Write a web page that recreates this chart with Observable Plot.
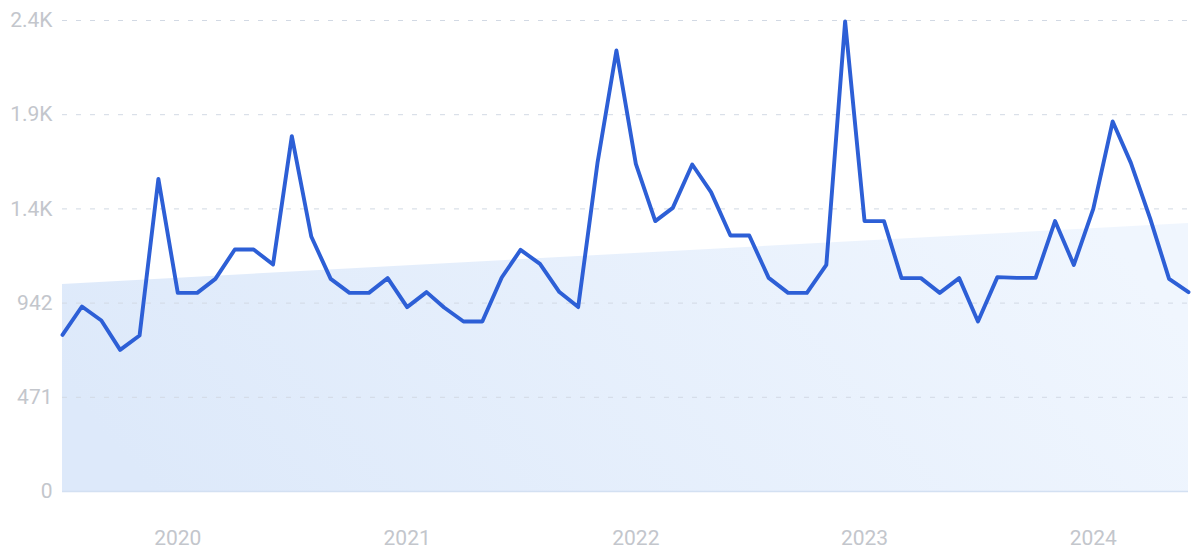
<!DOCTYPE html>
<html>
<head>
<meta charset="utf-8">
<script src="https://cdn.jsdelivr.net/npm/d3@7"></script>
<script src="https://cdn.jsdelivr.net/npm/@observablehq/plot@0.6"></script>
<style>
  html, body { margin: 0; padding: 0; background: #ffffff; }
  #chart svg { display: block; }
</style>
</head>
<body>
<div id="chart"></div>
<script>
// ---- data ----
const startMonth = "2019-07-01";
const endMonth = "2024-06-01";
const values = [
  783, 925, 855, 708, 780, 1563, 993, 993, 1063, 1210,
  1210, 1135, 1777, 1275, 1063, 993, 993, 1067, 922, 997,
  920, 850, 850, 1070, 1208, 1138, 997, 922, 1647, 2205,
  1638, 1352, 1418, 1635, 1497, 1280, 1280, 1068, 993, 993,
  1133, 2350, 1352, 1352, 1067, 1067, 993, 1067, 850, 1072,
  1068, 1068, 1352, 1133, 1413, 1850, 1643, 1363, 1063, 997
];
const trendDates = ["2019-07-01", "2024-06-01"];
const trendValues = [1035, 1340];
const yTicks = [0, 471, 942, 1413, 1884, 2355];
const yTickLabels = ["0", "471", "942", "1.4K", "1.9K", "2.4K"];
const xTicks = ["2020-01-01", "2021-01-01", "2022-01-01", "2023-01-01", "2024-01-01"];
const xTickLabels = ["2020", "2021", "2022", "2023", "2024"];

// ---- build tables ----
const months = d3.utcMonth.range(new Date(startMonth), d3.utcMonth.offset(new Date(endMonth), 1));
const series = months.map((d, i) => ({date: d, value: values[i]}));
const trend = trendDates.map((d, i) => ({date: new Date(d), value: trendValues[i]}));
const xTickDates = xTicks.map(d => new Date(d));

const labelColor = "#c3c6cc";

const chart = Plot.plot({
  width: 1200,
  height: 553,
  marginLeft: 62,
  marginRight: 12,
  marginTop: 20,
  marginBottom: 62,
  style: {fontFamily: "Roboto, sans-serif", fontSize: "21px", background: "#ffffff"},
  x: {type: "utc", domain: [new Date(startMonth), new Date(endMonth)]},
  y: {domain: [0, 2355]},
  marks: [
    Plot.areaY(trend, {x: "date", y: "value", fill: "url(#trendGrad)", curve: "linear"}),
    Plot.gridY(yTicks.filter(d => d > 0), {stroke: "#d2d9e4", strokeOpacity: 1, strokeDasharray: "5,9", strokeWidth: 1}),
    Plot.ruleY([0], {stroke: "#d3e0f2", strokeWidth: 1.5}),
    Plot.axisY(yTicks, {
      tickSize: 0, tickPadding: 10, label: null, color: labelColor,
      tickFormat: d => yTickLabels[yTicks.indexOf(d)]
    }),
    Plot.axisX(xTickDates, {
      tickSize: 0, tickPadding: 39, label: null, color: labelColor,
      tickFormat: d => xTickLabels[xTickDates.findIndex(t => +t === +d)]
    }),
    Plot.line(series, {x: "date", y: "value", stroke: "#2d5fd6", strokeWidth: 3.9, strokeLinejoin: "round", strokeLinecap: "round"})
  ]
});

// gradient definition for the trend area
const ns = "http://www.w3.org/2000/svg";
const defs = document.createElementNS(ns, "defs");
const grad = document.createElementNS(ns, "linearGradient");
grad.setAttribute("id", "trendGrad");
grad.setAttribute("x1", "0"); grad.setAttribute("y1", "0.6");
grad.setAttribute("x2", "1"); grad.setAttribute("y2", "0.4");
[["0%", "#dde9fa"], ["100%", "#f0f6fe"]].forEach(([o, c]) => {
  const s = document.createElementNS(ns, "stop");
  s.setAttribute("offset", o); s.setAttribute("stop-color", c);
  grad.appendChild(s);
});
defs.appendChild(grad);
chart.insertBefore(defs, chart.firstChild);

document.getElementById("chart").appendChild(chart);
</script>
</body>
</html>
